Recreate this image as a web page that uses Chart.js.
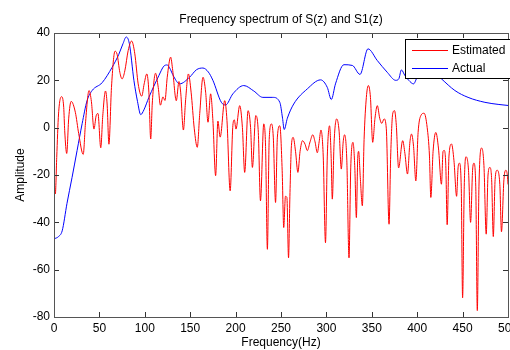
<!DOCTYPE html>
<html>
<head>
<meta charset="utf-8">
<title>Frequency spectrum of S(z) and S1(z)</title>
<script src="https://cdn.jsdelivr.net/npm/chart.js@4.4.0/dist/chart.umd.min.js"></script>
<style>
  html, body { margin: 0; padding: 0; background: #fff; }
</style>
</head>
<body>
<canvas id="spectrum" width="510" height="350"></canvas>
<script>
"use strict"

// values

const estFreq = [
  0, 1.5, 3, 5, 8.3, 10.7, 11.8, 14, 16.2, 18.9, 23.5, 27.2, 32.2, 34.6, 38.6, 41.2, 44, 46.4, 48.4, 51.5,
  53.7, 56.7, 58.5, 60.5, 63.3, 67.2, 69.5, 72.5, 75, 78, 81.7, 85.5, 89, 92.7, 96.6, 99.3, 102.2, 104.5, 106.5, 108.2,
  111.8, 114.8, 117.2, 120, 122.2, 124.7, 128.5, 130.5, 134.7, 137.6, 139.5, 142.5, 145, 148, 151, 154.5, 157.8, 160.5, 164.1, 167,
  169.6, 172.5, 175, 178, 180.5, 183, 188, 190.5, 194, 197, 198.6, 200.4, 204.5, 207.5, 210, 213.7, 216.5, 218.5, 222.2, 225,
  227.4, 231, 233, 235, 237, 239.5, 241.5, 244, 246, 248.7, 251.3, 253, 254.9, 256.5, 258.3, 259.8, 261.5, 263.4, 266, 268.6,
  271, 273.7, 276.5, 279, 282, 285, 287.5, 290, 292, 294, 296.5, 299, 301, 303.5, 305.2, 306.5, 308.5, 311.3, 314, 316.4,
  318.5, 320, 322.5, 324.9, 326.8, 329.3, 331.3, 333, 334.5, 335.5, 337.3, 339.6, 341.5, 344, 346.2, 348.5, 351, 353.5, 356.1, 358.7,
  361, 363.5, 366, 369, 370.8, 373, 375, 377, 379.5, 384, 386.5, 389.3, 392, 393.7, 396, 398.5, 401, 404, 407.6, 411,
  413.5, 415, 417.5, 420.5, 423.5, 426.7, 428.5, 429.8, 431.5, 433, 435, 437.8, 440.5, 443.4, 445, 446.5, 448.5, 450, 451.8, 453.6,
  456.5, 458.8, 461, 462.5, 464.5, 466.2, 468, 471, 473.5, 476, 478, 480, 482, 483.8, 485.8, 488, 491, 492.8, 495.5, 497.5,
  500, 501.5
]
const estAmp = [
  -20, -28, -12.6, 5.8, 13.1, 8.6, -1.3, -10.9, 4, 11.1, 6.5, -2.5, -11.3, 1.6, 15.7, 11, -0.6, 5, 6, -8.5,
  5, 15.5, 10, -7, 17, 32.3, 31, 23.4, 20.6, 24, 32.6, 36.6, 31.2, 18.5, 13.3, 18.5, 22.7, 15, -4.8, 10,
  23, 17, 9.5, 13, 11.5, 21.3, 29.8, 25, 11.4, 19.5, 15, -1, 12, 22.7, 15, -0.5, -8.3, 6, 21.3, 15,
  2.3, 14.3, 3, -20.3, 2.8, -4, 11.4, 3, -26.7, 1, 3.3, -0.6, 9.3, 0, -18.9, 7.2, 0, -16.8, 5.1, -2,
  -30.9, 1.6, -8, -51.4, -5, 1.6, -4, -31.6, -4, 0.8, -18.2, -42.2, -29, -29.5, -55, -29, -7.5, -4.1, -10, -18.9,
  -10, -5.5, -7, -9.7, -6, -3, -6, -10.6, -6, -1, -12, -48.6, -12, 0.8, -12, -30.2, -6, 3.7, -1.5, -17.5,
  -6, -3, -14, -55, -17, -6.2, -17, -38, -13, -10, -21, -33, -5, 12.8, 17.8, 12.8, -6.2, 4, 9.3, 4,
  1.8, 3.7, -0.5, -40.8, -12, 5.8, 7.2, 1, -17, -5.5, -11, -19.6, -6, -2.7, -8, -22.5, -2, 5.1, 6.1, 0,
  -12, -29.5, -10, -2, -9, -23.9, -10, -9.6, -16, -41, -12, -6.9, -14, -29, -17, -15, -25, -71.9, -25, -12.3,
  -18, -40, -18, -15, -25, -77.3, -25, -8.6, -16, -45, -20, -16.8, -22, -46, -22, -18, -24, -44, -22, -18,
  -24, -42
]

const actFreq = [
  0, 5, 9, 14.3, 19.9, 25.4, 31, 36.4, 42, 53, 64, 71.4, 76, 79.5, 83, 88, 92, 95.5, 99, 104.5,
  115.5, 121, 124.7, 127, 132, 138.3, 149.3, 157, 164, 170, 175, 184.3, 189, 197, 209, 220, 230, 241, 248.7, 251.7,
  253.5, 257, 264, 279, 293.6, 301, 305.4, 310, 319.3, 328.6, 337, 345.8, 356, 367, 376.4, 379.7, 382.6, 386.5, 390.7, 396,
  400, 410, 420, 426.8, 441.5, 456, 474.6, 490, 502
]
const actAmp = [
  -47, -46, -43.6, -32, -21, -9.7, 1.7, 11.4, 15.7, 19, 25.5, 31, 35.5, 38.3, 35.5, 20, 11, 5.5, 7.5, 12.8,
  22, 26, 26.5, 25.5, 21.5, 18.5, 21.3, 24.5, 25.2, 23.5, 20, 10.7, 9.6, 14.3, 17.8, 15.5, 12.8, 12.8, 10.7, 4,
  -0.8, 4, 10, 16.4, 20.2, 17, 11.9, 18.5, 26.6, 26.3, 22.5, 33.3, 28.4, 23.4, 20, 20.6, 24.4, 22, 20, 18.5,
  21.3, 25, 23, 20.6, 15.7, 12.8, 10.7, 9.8, 9.3
]

const seriesNames = ["Estimated", "Actual"]
const seriesColors = ["#ff0000", "#0000ff"]

// build the {x, y} points chart.js wants
function toPoints(xs, ys) {
  let pts = []
  for (let i = 0; i < xs.length; i++) {
    pts.push({ x: xs[i], y: ys[i] })
  }
  return pts
}

Chart.defaults.font.family = "'Liberation Sans', Arial, sans-serif"
Chart.defaults.font.size = 12
Chart.defaults.color = "#000"

// matlab style box with inward ticks
const axesBox = {
  id: "axesBox",
  afterDatasetsDraw(chart) {
    const ctx = chart.ctx
    const a = chart.chartArea
    const xs = chart.scales.x
    const ys = chart.scales.y
    ctx.save()
    ctx.strokeStyle = "#333"
    ctx.lineWidth = 1
    ctx.beginPath()
    xs.ticks.forEach((t) => {
      const px = Math.round(xs.getPixelForValue(t.value)) + 0.5
      ctx.moveTo(px, a.bottom)
      ctx.lineTo(px, a.bottom - 5)
      ctx.moveTo(px, a.top)
      ctx.lineTo(px, a.top + 5)
    })
    ys.ticks.forEach((t) => {
      const py = Math.round(ys.getPixelForValue(t.value)) + 0.5
      ctx.moveTo(a.left, py)
      ctx.lineTo(a.left + 5, py)
      ctx.moveTo(a.right, py)
      ctx.lineTo(a.right - 5, py)
    })
    ctx.stroke()
    ctx.strokeStyle = "#555"
    ctx.strokeRect(Math.round(a.left) + 0.5, Math.round(a.top) + 0.5, Math.round(a.right - a.left), Math.round(a.bottom - a.top))
    ctx.restore()
  },
}

// boxed legend in the upper right corner
const legendBox = {
  id: "legendBox",
  afterDraw(chart) {
    const ctx = chart.ctx
    const a = chart.chartArea
    const left = a.right - 103
    const top = a.top + 6
    ctx.save()
    ctx.fillStyle = "#fff"
    ctx.fillRect(left, top, 105, 39)
    ctx.strokeStyle = "#000"
    ctx.lineWidth = 1
    ctx.strokeRect(left + 0.5, top + 0.5, 105, 39)
    ctx.font = "12px 'Liberation Sans', Arial, sans-serif"
    ctx.textBaseline = "middle"
    for (let i = 0; i < seriesNames.length; i++) {
      const y = top + 11.5 + i * 18
      ctx.strokeStyle = seriesColors[i]
      ctx.beginPath()
      ctx.moveTo(left + 7, y)
      ctx.lineTo(left + 43, y)
      ctx.stroke()
      ctx.fillStyle = "#000"
      ctx.fillText(seriesNames[i], left + 47, y)
    }
    ctx.restore()
  },
}

const spectrumChart = new Chart(document.getElementById("spectrum"), {
  type: "line",
  data: {
    datasets: [
      {
        label: seriesNames[0],
        data: toPoints(estFreq, estAmp),
        borderColor: seriesColors[0],
        borderWidth: 1,
        pointRadius: 0,
        cubicInterpolationMode: "monotone",
      },
      {
        label: seriesNames[1],
        data: toPoints(actFreq, actAmp),
        borderColor: seriesColors[1],
        borderWidth: 1,
        pointRadius: 0,
        cubicInterpolationMode: "monotone",
      },
    ],
  },
  options: {
    responsive: false,
    animation: false,
    devicePixelRatio: 1,
    layout: { padding: { left: 0, right: 2, top: 0, bottom: 0 } },
    scales: {
      x: {
        type: "linear",
        min: 0,
        max: 500,
        ticks: { stepSize: 50, padding: 4, maxRotation: 0 },
        grid: { display: false, drawTicks: false },
        border: { display: false },
        title: { display: true, text: "Frequency(Hz)", padding: 0 },
        afterFit(scale) {
          scale.height = 33
          scale.paddingLeft = 0
          scale.paddingRight = 0
        },
      },
      y: {
        min: -80,
        max: 40,
        ticks: { stepSize: 20, padding: 4 },
        grid: { display: false, drawTicks: false },
        border: { display: false },
        title: { display: true, text: "Amplitude", padding: { top: 13, bottom: 0 } },
        afterFit(scale) {
          scale.width = 54
          scale.paddingTop = 0
          scale.paddingBottom = 0
        },
      },
    },
    plugins: {
      legend: { display: false },
      tooltip: { enabled: false },
      title: {
        display: true,
        fullSize: false,
        text: "Frequency spectrum of S(z) and S1(z)",
        font: { size: 12, weight: "normal" },
        color: "#000",
        padding: { top: 12, bottom: 6.6 },
      },
    },
  },
  plugins: [axesBox, legendBox],
})
</script>
</body>
</html>
